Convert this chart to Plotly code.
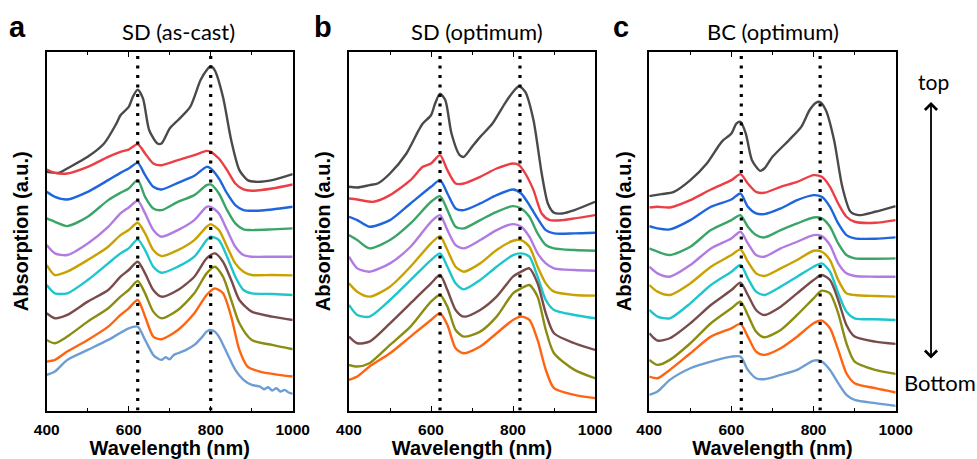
import plotly.graph_objects as go

# ---------------- data (absorption, arbitrary offset units) ----------------
COLORS = {
    "gray": "#4a4a4a", "red": "#ec3f45", "blue": "#1f66dc", "green": "#3aa567",
    "purple": "#b27be3", "mustard": "#c9a100", "cyan": "#1cc6cc", "brown": "#7a4b4b",
    "olive": "#8b8d12", "orange": "#ff6411", "lightblue": "#6d9dd3",
}

# Panel a : SD (as-cast)
a_gray_x = [400, 430, 450, 500, 540, 570, 580, 600, 610, 622, 635, 650, 670, 680, 700, 720, 750, 775, 790, 800, 810, 830, 850, 870, 890, 910, 950, 1000]
a_gray_y = [72.5, 72.2, 73.5, 77.0, 81.0, 87.0, 89.5, 92.0, 95.0, 97.2, 94.5, 85.0, 81.0, 81.0, 85.5, 88.0, 92.0, 100.0, 103.0, 104.2, 103.0, 95.0, 82.0, 73.0, 70.0, 69.5, 70.0, 71.8]
a_x1 = [400, 420, 450, 500, 550, 580, 600, 622, 640, 660, 680, 720, 760, 790, 800, 820, 840, 860, 880, 900, 950, 1000]
a_red_y = [73.2, 72.2, 72.0, 74.0, 77.0, 78.5, 79.2, 80.8, 78.0, 75.0, 74.5, 76.0, 77.5, 78.8, 78.5, 76.5, 73.0, 69.0, 67.2, 66.8, 67.5, 68.7]
a_blue_y = [66.5, 65.0, 64.2, 66.5, 70.0, 72.2, 73.5, 75.2, 71.5, 68.0, 67.2, 69.2, 71.3, 74.0, 73.5, 70.5, 66.0, 62.5, 61.0, 60.8, 61.2, 62.0]
a_green_y = [58.5, 57.5, 56.2, 59.0, 64.0, 66.2, 67.5, 70.0, 65.0, 61.5, 61.0, 63.5, 65.5, 68.5, 68.7, 66.0, 61.0, 57.0, 55.2, 55.0, 55.2, 55.5]
a_purple_y = [50.5, 48.0, 47.5, 51.0, 56.0, 60.0, 61.8, 63.8, 60.0, 55.0, 53.0, 55.0, 58.0, 62.0, 62.0, 60.0, 55.0, 50.0, 47.5, 47.0, 47.0, 47.0]
a_mustard_y = [44.5, 41.5, 42.5, 46.0, 50.0, 53.5, 55.0, 57.2, 54.0, 49.0, 47.2, 49.0, 52.0, 56.0, 56.8, 55.0, 50.0, 45.0, 42.5, 41.5, 41.5, 41.4]
a_cyan_y = [38.5, 36.0, 36.0, 40.0, 45.0, 48.0, 49.5, 52.2, 49.0, 44.0, 42.2, 44.0, 47.0, 52.0, 53.0, 52.0, 47.0, 41.0, 37.0, 36.0, 35.8, 35.5]
a_x2 = [400, 420, 450, 500, 550, 580, 600, 622, 640, 660, 680, 720, 760, 790, 810, 830, 850, 870, 900, 950, 1000]
a_brown_y = [30.0, 28.5, 29.5, 33.5, 37.0, 41.0, 43.0, 45.5, 42.0, 37.0, 35.0, 37.0, 41.0, 46.5, 48.0, 45.5, 40.0, 34.0, 30.5, 29.0, 28.0]
a_olive_y = [22.0, 21.0, 23.0, 27.5, 31.5, 35.0, 37.0, 39.7, 36.0, 30.5, 28.5, 31.0, 36.0, 42.0, 44.0, 41.0, 34.0, 27.0, 22.0, 20.5, 19.2]
a_orange_x = [400, 420, 450, 500, 550, 580, 600, 622, 640, 660, 680, 720, 760, 790, 810, 830, 850, 870, 890, 920, 1000]
a_orange_y = [15.5, 16.0, 18.5, 22.0, 26.0, 29.5, 31.5, 34.0, 29.0, 23.0, 22.2, 25.0, 30.0, 35.5, 37.5, 36.0, 29.0, 19.0, 14.0, 12.5, 11.0]
a_lb_x = [400, 420, 450, 500, 550, 600, 622, 640, 660, 670, 680, 690, 700, 710, 720, 740, 760, 780, 790, 800, 810, 820, 840, 860, 880, 900, 920, 930, 940, 950, 960, 970, 980, 990, 1000]
a_lb_y = [11.5, 12.5, 16.0, 19.0, 22.0, 25.5, 26.0, 22.0, 17.5, 16.5, 16.0, 16.8, 16.2, 17.5, 18.0, 19.0, 20.5, 23.0, 24.5, 25.0, 24.5, 23.0, 18.0, 13.0, 10.0, 8.5, 8.0, 7.2, 7.8, 6.8, 7.5, 6.5, 7.0, 6.2, 5.8]

# Panel b : SD (optimum)
b_gray_x = [400, 420, 450, 470, 500, 540, 570, 580, 600, 610, 622, 635, 650, 670, 680, 700, 720, 750, 780, 800, 815, 830, 850, 870, 885, 900, 920, 950, 1000]
b_gray_y = [68.0, 67.8, 68.5, 69.0, 72.0, 78.0, 85.0, 87.0, 89.5, 93.0, 96.0, 94.0, 84.0, 77.5, 77.0, 80.0, 83.0, 87.0, 93.0, 96.5, 98.2, 96.5, 88.0, 72.0, 63.0, 60.2, 60.0, 61.0, 63.5]
b_red_x = [400, 420, 460, 500, 550, 580, 600, 622, 640, 660, 680, 720, 760, 800, 815, 830, 850, 870, 890, 920, 950, 1000]
b_red_y = [64.5, 64.2, 63.5, 65.5, 70.0, 74.0, 75.0, 77.5, 73.0, 69.0, 69.0, 71.0, 73.5, 75.0, 74.5, 72.0, 67.0, 60.0, 58.0, 58.0, 58.5, 59.5]
b_x = [400, 420, 450, 500, 550, 600, 622, 640, 660, 680, 720, 760, 800, 820, 840, 860, 880, 900, 950, 1000]
b_blue_y = [59.0, 58.0, 56.0, 58.0, 63.0, 68.0, 70.0, 66.0, 61.5, 61.0, 63.0, 65.5, 67.2, 66.0, 62.5, 58.5, 55.0, 54.0, 54.0, 54.2]
b_green_y = [53.5, 52.0, 49.5, 52.0, 57.0, 63.5, 65.2, 61.0, 56.0, 55.5, 58.0, 60.5, 62.2, 61.5, 59.0, 54.0, 50.5, 49.5, 49.0, 48.8]
b_purple_y = [47.0, 43.5, 42.5, 45.0, 50.0, 57.5, 59.5, 55.0, 50.5, 49.5, 52.0, 55.0, 56.8, 56.0, 53.0, 48.0, 45.0, 43.5, 43.0, 42.8]
b_mustard_y = [39.0, 36.5, 35.0, 38.0, 44.0, 51.0, 53.2, 49.0, 44.0, 42.5, 45.0, 49.0, 51.8, 52.0, 50.0, 44.0, 39.0, 36.5, 35.5, 35.3]
b_cyan_y = [32.5, 29.5, 29.0, 34.0, 40.0, 46.0, 48.0, 44.0, 39.0, 37.2, 40.0, 44.0, 47.5, 48.0, 47.0, 41.0, 34.0, 31.0, 29.5, 28.5]
b_brown_y = [23.0, 21.0, 21.5, 27.0, 33.0, 39.0, 41.5, 37.0, 31.0, 29.0, 31.0, 35.0, 41.0, 42.5, 43.5, 39.0, 30.0, 24.0, 21.0, 19.0]
b_olive_y = [14.5, 14.0, 15.0, 20.5, 26.0, 33.5, 35.5, 32.0, 25.0, 23.0, 24.5, 29.0, 36.0, 37.5, 38.5, 35.0, 25.0, 18.0, 13.0, 10.5]
b_orange_y = [10.0, 11.0, 14.0, 18.0, 23.0, 28.0, 30.0, 26.5, 19.5, 18.0, 20.0, 24.0, 28.0, 29.0, 28.0, 22.0, 13.0, 7.5, 5.5, 4.5]

# Panel c : BC (optimum)
c_gray_x = [400, 430, 460, 500, 540, 570, 580, 600, 612, 622, 635, 650, 670, 680, 700, 740, 770, 790, 805, 815, 830, 850, 870, 890, 910, 950, 1000]
c_gray_y = [65.2, 65.8, 66.5, 70.0, 75.0, 80.5, 82.0, 84.0, 87.0, 87.5, 84.0, 76.0, 72.8, 73.5, 77.0, 82.0, 86.0, 91.0, 93.2, 93.5, 91.0, 82.0, 68.0, 60.5, 59.5, 60.5, 62.2]
c_x = [400, 420, 450, 500, 550, 600, 622, 640, 660, 680, 720, 760, 800, 820, 840, 860, 880, 900, 950, 1000]
c_red_y = [61.8, 62.0, 61.8, 64.0, 67.2, 70.0, 71.8, 69.0, 66.5, 66.2, 68.0, 69.5, 71.5, 71.0, 68.0, 63.0, 59.0, 57.5, 57.2, 58.0]
c_blue_y = [56.2, 55.5, 55.2, 58.0, 62.0, 64.2, 66.0, 62.0, 60.0, 59.8, 61.5, 64.0, 65.5, 65.0, 62.0, 57.0, 53.5, 52.5, 52.4, 52.8]
c_green_y = [49.5, 48.5, 47.5, 50.0, 55.0, 58.0, 59.5, 56.0, 53.5, 52.8, 55.0, 57.0, 58.8, 58.5, 56.0, 51.0, 47.5, 46.5, 46.4, 46.5]
c_purple_y = [44.0, 42.0, 41.0, 44.5, 49.5, 52.5, 54.5, 51.0, 47.5, 47.0, 49.5, 51.5, 53.5, 53.2, 50.5, 45.0, 42.0, 41.2, 41.0, 41.0]
c_mustard_y = [38.5, 36.5, 35.5, 39.0, 44.0, 47.5, 49.2, 45.5, 42.0, 41.2, 43.5, 46.0, 48.8, 48.5, 46.0, 40.0, 36.0, 35.5, 35.2, 35.0]
c_cyan_y = [31.0, 29.0, 28.5, 33.0, 38.5, 42.5, 44.5, 40.5, 36.5, 35.5, 38.0, 41.0, 44.0, 45.0, 42.5, 36.0, 30.5, 28.5, 28.2, 28.0]
c_brown_y = [24.0, 21.8, 22.5, 27.0, 32.5, 37.0, 39.2, 35.5, 31.0, 29.5, 32.0, 36.0, 40.0, 41.5, 40.0, 34.0, 26.5, 23.0, 21.5, 20.8]
c_olive_y = [16.0, 14.5, 16.0, 21.0, 27.0, 31.5, 33.5, 29.5, 24.5, 22.8, 25.0, 29.5, 34.5, 36.8, 36.0, 30.0, 21.0, 15.5, 13.0, 11.8]
c_orange_y = [11.0, 10.5, 13.0, 18.0, 23.0, 25.5, 26.8, 23.0, 18.5, 17.5, 19.5, 23.0, 27.0, 27.8, 25.5, 19.0, 12.0, 9.0, 7.5, 6.2]
c_lb_y = [5.5, 6.5, 10.0, 13.5, 15.5, 17.0, 17.0, 13.0, 10.5, 10.2, 11.5, 13.0, 15.8, 15.5, 13.0, 9.0, 5.5, 4.0, 3.0, 2.2]

a_peaks = [622, 800]
b_peaks = [622, 817]
c_peaks = [624, 816]
titles = ["SD (as-cast)", "SD (optimum)", "BC (optimum)"]
letters = ["a", "b", "c"]
x_ticks = [400, 600, 800, 1000]

panels = [
    [("gray", a_gray_x, a_gray_y), ("red", a_x1, a_red_y), ("blue", a_x1, a_blue_y),
     ("green", a_x1, a_green_y), ("purple", a_x1, a_purple_y), ("mustard", a_x1, a_mustard_y),
     ("cyan", a_x1, a_cyan_y), ("brown", a_x2, a_brown_y), ("olive", a_x2, a_olive_y),
     ("orange", a_orange_x, a_orange_y), ("lightblue", a_lb_x, a_lb_y)],
    [("gray", b_gray_x, b_gray_y), ("red", b_red_x, b_red_y), ("blue", b_x, b_blue_y),
     ("green", b_x, b_green_y), ("purple", b_x, b_purple_y), ("mustard", b_x, b_mustard_y),
     ("cyan", b_x, b_cyan_y), ("brown", b_x, b_brown_y), ("olive", b_x, b_olive_y),
     ("orange", b_x, b_orange_y)],
    [("gray", c_gray_x, c_gray_y), ("red", c_x, c_red_y), ("blue", c_x, c_blue_y),
     ("green", c_x, c_green_y), ("purple", c_x, c_purple_y), ("mustard", c_x, c_mustard_y),
     ("cyan", c_x, c_cyan_y), ("brown", c_x, c_brown_y), ("olive", c_x, c_olive_y),
     ("orange", c_x, c_orange_y), ("lightblue", c_x, c_lb_y)],
]
peaks = [a_peaks, b_peaks, c_peaks]

# ---------------- layout ----------------
W, H = 977, 459
xdom_px = [(46.7, 292.7), (349, 595), (649.3, 895.7)]
ytop_px, ybot_px = 52, 410.5
ydom = [1 - ybot_px / H, 1 - ytop_px / H]
YR = [0.8, 108.5]

fig = go.Figure()
BOLD = "Liberation Sans"
for i, curves in enumerate(panels):
    sfx = "" if i == 0 else str(i + 1)
    for name, xs, ys in curves:
        fig.add_trace(go.Scatter(x=xs, y=ys, mode="lines", xaxis="x" + sfx, yaxis="y" + sfx,
                                 line=dict(color=COLORS[name], width=2.4, shape="spline", smoothing=0.7),
                                 showlegend=False, hoverinfo="skip"))
    for p in peaks[i]:
        fig.add_trace(go.Scatter(x=[p, p], y=YR, mode="lines", xaxis="x" + sfx, yaxis="y" + sfx,
                                 line=dict(color="black", width=3.2, dash="3px,6.5px"),
                                 showlegend=False, hoverinfo="skip"))
    x0, x1 = xdom_px[i]
    fig.layout["xaxis" + sfx] = dict(
        domain=[x0 / W, x1 / W], range=[400, 1000], anchor="y" + sfx, automargin=False,
        tickvals=x_ticks, ticks="inside", ticklen=5, tickwidth=1.2, tickcolor="black",
        minor=dict(tickvals=[500, 700, 900], ticks="inside", ticklen=3, tickcolor="black"),
        showline=True, linecolor="black", linewidth=1.6, mirror="ticks",
        showgrid=False, zeroline=False, ticklabelstandoff=4,
        tickfont=dict(family=BOLD, size=15.5, color="black", weight="bold"),
        title=dict(text="Wavelength (nm)", standoff=4,
                   font=dict(family=BOLD, size=20, color="black", weight="bold")),
    )
    fig.layout["yaxis" + sfx] = dict(
        domain=ydom, range=YR, anchor="x" + sfx, automargin=False,
        showticklabels=False, ticks="", showline=True, linecolor="black", linewidth=1.6,
        mirror=True, showgrid=False, zeroline=False,
        title=dict(text="Absorption (a.u.)", standoff=11,
                   font=dict(family=BOLD, size=20, color="black", weight="bold")),
    )

annotations = []
title_cx = [178, 477, 772.5]
letter_x = [17, 323, 621]
for i in range(3):
    annotations.append(dict(text=titles[i], x=title_cx[i] / W, y=1 - 31 / H, xref="paper", yref="paper",
                            showarrow=False, xanchor="center", yanchor="middle",
                            font=dict(family="Lato", size=22, color="black")))
    annotations.append(dict(text=letters[i], x=letter_x[i] / W, y=1 - 27 / H, xref="paper", yref="paper",
                            showarrow=False, xanchor="center", yanchor="middle",
                            font=dict(family=BOLD, size=29, color="black", weight="bold")))
annotations.append(dict(text="top", x=933 / W, y=1 - 81 / H, xref="paper", yref="paper", showarrow=False,
                        xanchor="center", yanchor="middle", font=dict(family="Lato", size=21, color="black")))
annotations.append(dict(text="Bottom", x=940 / W, y=1 - 382 / H, xref="paper", yref="paper", showarrow=False,
                        xanchor="center", yanchor="middle", font=dict(family="Lato", size=22, color="black")))
annotations.append(dict(text="", x=931 / W, y=1 - 102 / H, xref="paper", yref="paper",
                        ax=0, ay=258, axref="pixel", ayref="pixel",
                        showarrow=True, arrowhead=4, startarrowhead=4, arrowside="end+start",
                        arrowwidth=1.8, arrowsize=1.3, startarrowsize=1.3, arrowcolor="black"))

fig.update_layout(width=W, height=H, margin=dict(l=0, r=0, t=0, b=0),
                  paper_bgcolor="white", plot_bgcolor="white", annotations=annotations)
fig.write_html("out.html", config={"displayModeBar": False},
               post_script="document.body.style.margin='0';document.body.style.overflow='hidden';")
